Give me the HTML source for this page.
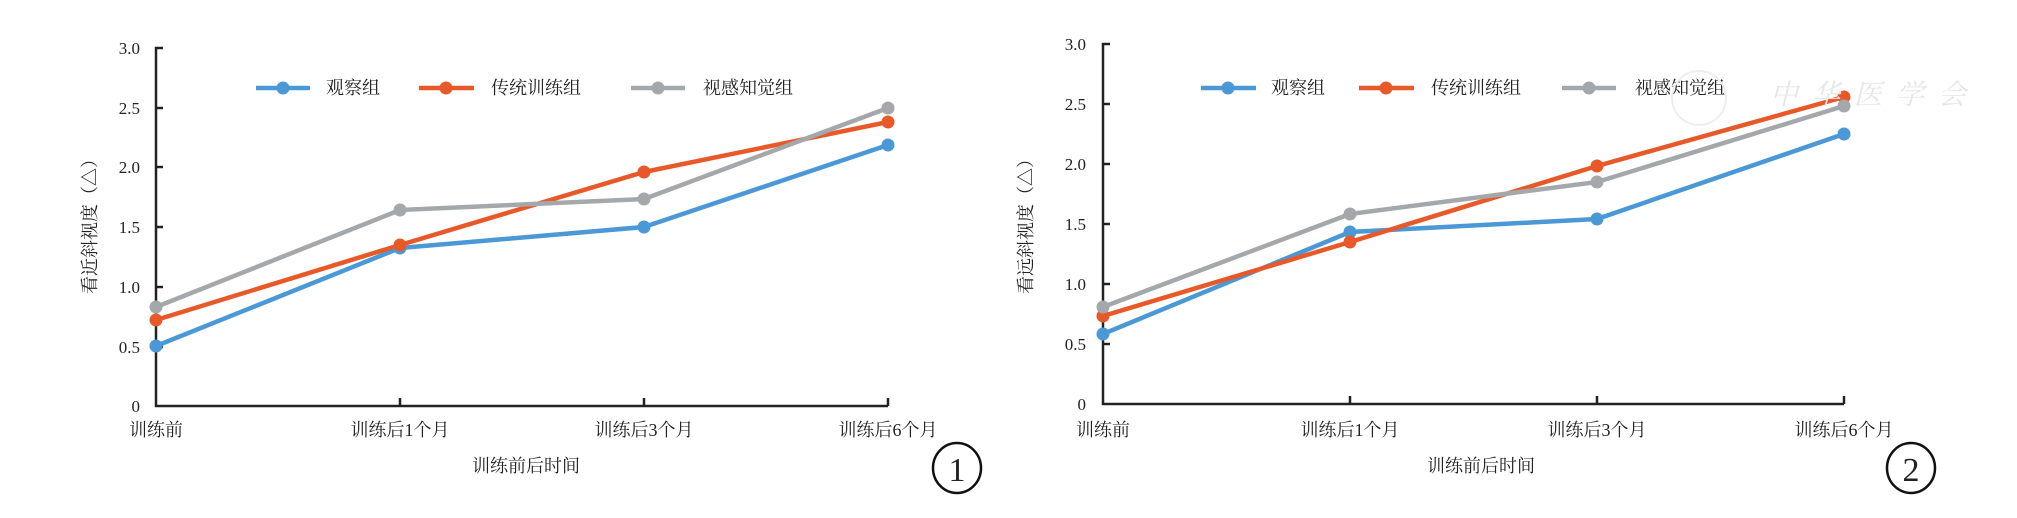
<!DOCTYPE html>
<html><head><meta charset="utf-8"><style>
html,body{margin:0;padding:0;background:#fff;}
svg{display:block;}
text{font-family:"Liberation Serif","Noto Serif CJK SC","Noto Sans CJK SC",serif;fill:#222;}
</style></head><body>
<svg width="2017" height="518" viewBox="0 0 2017 518" xmlns="http://www.w3.org/2000/svg">
<!-- Chart 1 -->
<g>
<g stroke="#222" stroke-width="2.5" fill="none">
<path d="M163,48 H156 V406 H888"/>
<path d="M156,108 H163 M156,167 H163 M156,227 H163 M156,287 H163 M156,347 H163"/>
<path d="M400,406 V398 M644,406 V398 M888,406 V398"/>
</g>
<g font-size="17" text-anchor="end">
<text x="140" y="54">3.0</text><text x="140" y="114">2.5</text><text x="140" y="173">2.0</text>
<text x="140" y="233">1.5</text><text x="140" y="293">1.0</text><text x="140" y="353">0.5</text><text x="140" y="412">0</text>
</g>
<g font-size="18">
<text x="129" y="436">训练前</text>
<text x="400" y="436" text-anchor="middle">训练后1个月</text>
<text x="644" y="436" text-anchor="middle">训练后3个月</text>
<text x="888" y="436" text-anchor="middle">训练后6个月</text>
<text x="526" y="472" text-anchor="middle">训练前后时间</text>
<text transform="translate(96,222) rotate(-90)" text-anchor="middle">看近斜视度（△）</text>
</g>
<g fill="none" stroke-width="4.5" stroke-linejoin="round">
<polyline stroke="#4a98d6" points="156,346 400,248 644,227 888,145"/>
<polyline stroke="#e8592a" points="156,320 400,245 644,172 888,122"/>
<polyline stroke="#a5a8ab" points="156,307 400,210 644,199 888,108"/>
</g>
<g fill="#4a98d6"><circle cx="156" cy="346" r="6.5"/><circle cx="400" cy="248" r="6.5"/><circle cx="644" cy="227" r="6.5"/><circle cx="888" cy="145" r="6.5"/></g>
<g fill="#e8592a"><circle cx="156" cy="320" r="6.5"/><circle cx="400" cy="245" r="6.5"/><circle cx="644" cy="172" r="6.5"/><circle cx="888" cy="122" r="6.5"/></g>
<g fill="#a5a8ab"><circle cx="156" cy="307" r="6.5"/><circle cx="400" cy="210" r="6.5"/><circle cx="644" cy="199" r="6.5"/><circle cx="888" cy="108" r="6.5"/></g>
<g stroke-width="4.5">
<line x1="256" y1="88" x2="310" y2="88" stroke="#4a98d6"/><circle cx="283" cy="88" r="6.5" fill="#4a98d6"/>
<line x1="419" y1="88" x2="474" y2="88" stroke="#e8592a"/><circle cx="446" cy="88" r="6.5" fill="#e8592a"/>
<line x1="631" y1="88" x2="685" y2="88" stroke="#a5a8ab"/><circle cx="658" cy="88" r="6.5" fill="#a5a8ab"/>
</g>
<g font-size="18"><text x="326" y="94">观察组</text><text x="491" y="94">传统训练组</text><text x="703" y="94">视感知觉组</text></g>
<ellipse cx="957" cy="468" rx="24" ry="25" fill="none" stroke="#111" stroke-width="2.5"/>
<text x="957" y="481" font-size="34" text-anchor="middle" font-family="Liberation Sans,sans-serif">1</text>
</g>
<!-- Chart 2 -->
<g>
<g stroke="#222" stroke-width="2.5" fill="none">
<path d="M1110,44 H1103 V404 H1844"/>
<path d="M1103,104 H1110 M1103,164 H1110 M1103,224 H1110 M1103,284 H1110 M1103,344 H1110"/>
<path d="M1350,404 V396 M1597,404 V396 M1844,404 V396"/>
</g>
<g font-size="17" text-anchor="end">
<text x="1086" y="50">3.0</text><text x="1086" y="110">2.5</text><text x="1086" y="170">2.0</text>
<text x="1086" y="230">1.5</text><text x="1086" y="290">1.0</text><text x="1086" y="350">0.5</text><text x="1086" y="410">0</text>
</g>
<g font-size="18">
<text x="1076" y="436">训练前</text>
<text x="1350" y="436" text-anchor="middle">训练后1个月</text>
<text x="1597" y="436" text-anchor="middle">训练后3个月</text>
<text x="1844" y="436" text-anchor="middle">训练后6个月</text>
<text x="1481" y="472" text-anchor="middle">训练前后时间</text>
<text transform="translate(1032,222) rotate(-90)" text-anchor="middle">看远斜视度（△）</text>
</g>
<g fill="none" stroke-width="4.5" stroke-linejoin="round">
<polyline stroke="#4a98d6" points="1103,334 1350,232 1597,219 1844,134"/>
<polyline stroke="#e8592a" points="1103,316 1350,242 1597,166 1844,97"/>
<polyline stroke="#a5a8ab" points="1103,307 1350,214 1597,182 1844,106"/>
</g>
<g fill="#4a98d6"><circle cx="1103" cy="334" r="6.5"/><circle cx="1350" cy="232" r="6.5"/><circle cx="1597" cy="219" r="6.5"/><circle cx="1844" cy="134" r="6.5"/></g>
<g fill="#e8592a"><circle cx="1103" cy="316" r="6.5"/><circle cx="1350" cy="242" r="6.5"/><circle cx="1597" cy="166" r="6.5"/><circle cx="1844" cy="97" r="6.5"/></g>
<g fill="#a5a8ab"><circle cx="1103" cy="307" r="6.5"/><circle cx="1350" cy="214" r="6.5"/><circle cx="1597" cy="182" r="6.5"/><circle cx="1844" cy="106" r="6.5"/></g>
<g stroke-width="4.5">
<line x1="1201" y1="88" x2="1256" y2="88" stroke="#4a98d6"/><circle cx="1228" cy="88" r="6.5" fill="#4a98d6"/>
<line x1="1359" y1="88" x2="1414" y2="88" stroke="#e8592a"/><circle cx="1386" cy="88" r="6.5" fill="#e8592a"/>
<line x1="1562" y1="88" x2="1616" y2="88" stroke="#a5a8ab"/><circle cx="1589" cy="88" r="6.5" fill="#a5a8ab"/>
</g>
<g font-size="18"><text x="1271" y="94">观察组</text><text x="1431" y="94">传统训练组</text><text x="1635" y="94">视感知觉组</text></g>
<circle cx="1699" cy="98" r="27" fill="none" stroke="#eee" stroke-width="2"/>
<text x="1770" y="104" font-size="28" fill="#e6e6e6" style="fill:#e6e6e6;font-style:italic" letter-spacing="14">中华医学会</text>
<ellipse cx="1911" cy="468" rx="24" ry="25" fill="none" stroke="#111" stroke-width="2.5"/>
<text x="1911" y="481" font-size="34" text-anchor="middle" font-family="Liberation Sans,sans-serif">2</text>
</g>
</svg>
</body></html>
